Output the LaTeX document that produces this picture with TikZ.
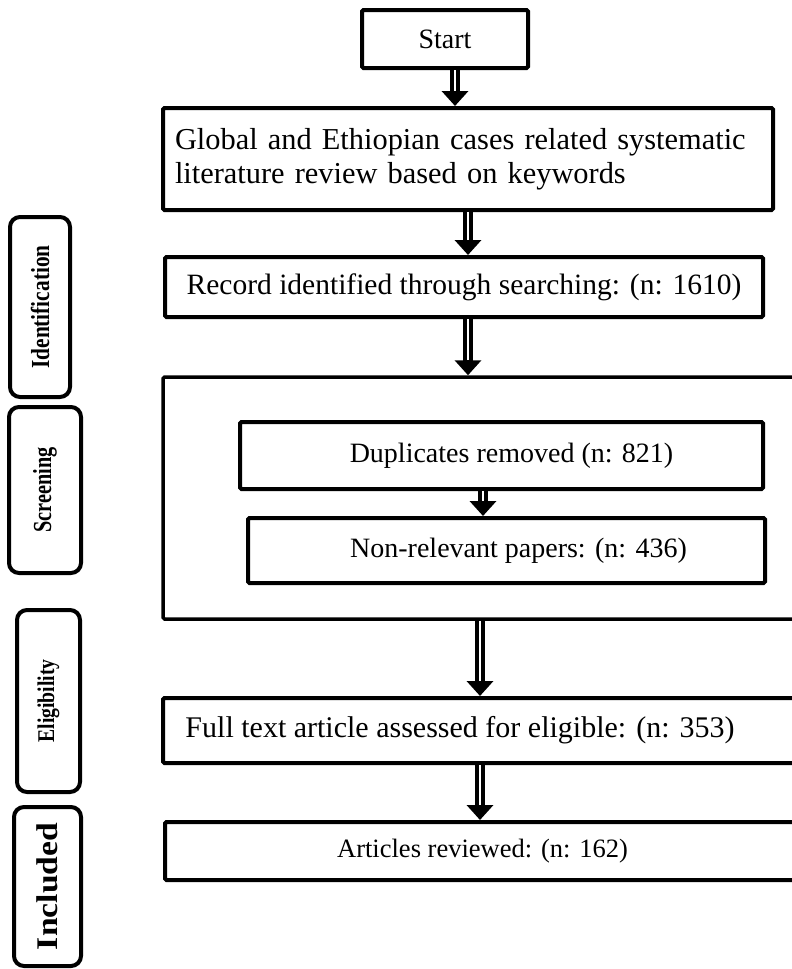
\documentclass[tikz,border=0pt]{standalone}
\usepackage{fontspec}
\setmainfont{Liberation Serif}
\usetikzlibrary{arrows.meta}

\tikzset{
  box/.style={draw, line width=4pt, rounded corners=1.5pt, inner sep=0pt,
    font=\fontsize{28}{33}\selectfont},
  frame/.style={draw, line width=3.5pt, rounded corners=1.5pt, inner sep=0pt},
  phase/.style={draw, line width=4pt, rounded corners=10pt, inner sep=0pt,
    rotate=90, font=\bfseries\fontsize{26}{28}\selectfont},
  flow/.style={line width=10pt,
    -{Triangle[length=15pt,width=26pt]},
    postaction={draw=white, line width=1.2pt, -, shorten >=15pt}}
}

\begin{document}
\begin{tikzpicture}[x=1pt,y=-1pt]
  \useasboundingbox (0,0) rectangle (792,969);
  \fill[white] (0,0) rectangle (792,969);
  \clip (0,0) rectangle (792,969);

  % process boxes
  \node[box, minimum width=166pt, minimum height=58pt] (start) at (445,39) {Start};
  \node[box, minimum height=102pt, text width=586pt, inner xsep=12pt, align=left,
        font=\fontsize{30.4}{34}\selectfont] (global) at (468,159)
        {Global and Ethiopian cases related systematic\\literature review based on keywords};
  \node[box, minimum width=598pt, minimum height=60pt,
        font=\fontsize{29.5}{33}\selectfont] (record) at (464,287)
        {Record identified through searching: (n: 1610)};

  % screening group
  \node[frame, minimum width=637pt, minimum height=242pt] (group) at (481.5,498) {};
  \node[box, minimum width=523pt, minimum height=67pt] (dup) at (501.5,455.5)
        {\hspace*{20pt}Duplicates removed (n: 821)};
  \node[box, minimum width=517pt, minimum height=65pt] (nonrel) at (506.5,550.5)
        {\hspace*{24pt}Non-relevant papers: (n: 436)};

  \node[box, minimum width=637pt, minimum height=65pt,
        font=\fontsize{30}{33}\selectfont] (full) at (481.5,730.5)
        {Full text article assessed for eligible: (n: 353)\hspace*{43pt}};
  \node[box, minimum width=635pt, minimum height=58pt,
        font=\fontsize{26.5}{30}\selectfont] (articles) at (482.5,851)
        {Articles reviewed: (n: 162)};

  % phase labels
  \node[phase, minimum width=180pt, minimum height=60pt] (ident) at (40,307)
        {\scalebox{0.82}[1]{Identification}};
  \node[phase, minimum width=166pt, minimum height=72pt] (screen) at (45,490)
        {\scalebox{0.78}[1]{Screening}};
  \node[phase, minimum width=182pt, minimum height=63pt,
        font=\bfseries\fontsize{24}{26}\selectfont] (elig) at (48.5,701)
        {\scalebox{0.82}[1]{Eligibility}};
  \node[phase, minimum width=159pt, minimum height=67pt,
        font=\bfseries\fontsize{30}{34}\selectfont] (incl) at (47.5,886.5)
        {\scalebox{1.12}[1]{Included}};

  % connectors
  \draw[flow] ([xshift=10pt]start.south) -- ([xshift=10pt]start.south |- global.north);
  \draw[flow] (global.south) -- (global.south |- record.north);
  \draw[flow] ([xshift=4pt]record.south) -- ([xshift=4pt]record.south |- group.north);
  \draw[flow] ([xshift=-18.5pt]dup.south) -- ([xshift=-18.5pt]dup.south |- nonrel.north);
  \draw[flow] ([xshift=-1.5pt]group.south) -- ([xshift=-1.5pt]group.south |- full.north);
  \draw[flow] ([xshift=-1.5pt]full.south) -- ([xshift=-1.5pt]full.south |- articles.north);
\end{tikzpicture}
\end{document}
